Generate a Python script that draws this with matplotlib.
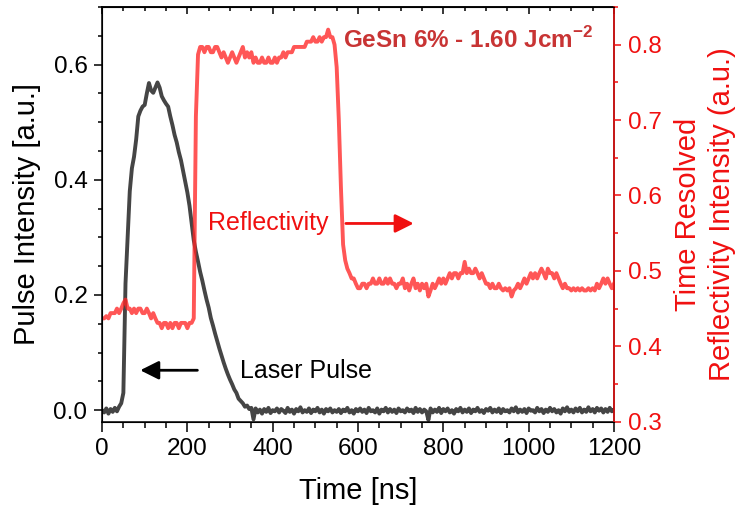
import numpy as np
import matplotlib
matplotlib.use("Agg")
import matplotlib.pyplot as plt
from matplotlib.ticker import MultipleLocator

plt.rcParams['font.family'] = ['Liberation Sans', 'DejaVu Sans']
plt.rcParams['mathtext.fontset'] = 'custom'
plt.rcParams['mathtext.rm'] = 'Liberation Sans'
plt.rcParams['mathtext.bf'] = 'Liberation Sans:bold'

# tiempo en ns, cada 5 ns
tiempo = np.arange(0, 1201, 5)

# pulso laser (eje izquierdo)
pulso = [
    0.000, -0.004, 0.003, -0.006, 0.002, -0.003, 0.004, -0.002, 0.006, 0.012,
    0.030, 0.220, 0.300, 0.380, 0.420, 0.440, 0.470, 0.510, 0.520, 0.527,
    0.530, 0.550, 0.568, 0.555, 0.551, 0.560, 0.569, 0.560, 0.545, 0.538,
    0.532, 0.527, 0.510, 0.495, 0.478, 0.465, 0.448, 0.434, 0.415, 0.395,
    0.378, 0.355, 0.325, 0.295, 0.275, 0.258, 0.240, 0.225, 0.208, 0.192,
    0.178, 0.160, 0.147, 0.133, 0.120, 0.107, 0.095, 0.083, 0.072, 0.062,
    0.053, 0.045, 0.036, 0.030, 0.020, 0.016, 0.012, 0.006, 0.008, 0.002,
    0.004, -0.016,
    0.003, -0.004, 0.001, -0.006, 0.002, -0.003, 0.004, -0.005, 0.000, -0.002,
    0.003, -0.004, 0.002, -0.001, -0.005, 0.004, -0.003, 0.001, -0.006, 0.002,
    -0.002, 0.005, -0.004, 0.000, -0.003, 0.003, -0.005, 0.001, -0.002, 0.004,
    -0.004, 0.001, -0.006, 0.002, -0.002, 0.003, -0.004, 0.000, -0.003, 0.002,
    -0.005, 0.001, -0.002, 0.004, -0.004, 0.000, -0.006, 0.002, -0.002, 0.003,
    -0.003, 0.001, -0.005, 0.004, -0.002, 0.000, -0.004, 0.003, -0.006, 0.001,
    -0.002, 0.004, -0.004, 0.002, -0.003, 0.001, -0.005, 0.003, -0.002, 0.000,
    -0.004, 0.003, -0.002, 0.001, -0.005, 0.004, -0.003, 0.002, -0.004, 0.001,
    -0.002, -0.017, 0.003, -0.004, 0.001, -0.003, 0.004, -0.005, 0.002, -0.002,
    0.003, -0.004, 0.000, -0.006, 0.002, -0.002, 0.004, -0.004, 0.001, -0.003,
    0.003, -0.005, 0.001, -0.002, 0.004, -0.003, 0.000, -0.005, 0.002, -0.001,
    0.004, -0.004, 0.001, -0.003, 0.003, -0.005, 0.002, -0.002, 0.000, -0.004,
    0.003, -0.002, 0.005, -0.004, 0.001, -0.003, 0.002, -0.005, 0.003, -0.001,
    0.000, -0.004, 0.004, -0.002, 0.002, -0.005, 0.001, -0.003, 0.004, -0.002,
    0.002, -0.004, 0.000, -0.006, 0.003, -0.002, 0.005, -0.003, 0.001, -0.004,
    0.003, -0.002, 0.004, -0.004, 0.001, -0.003, 0.005, -0.002, 0.002, -0.004,
    0.004, -0.001, 0.003, -0.004, 0.002, -0.003, 0.004, -0.002, 0.001,
]

# reflectividad (eje derecho)
reflect = [
    0.437, 0.437, 0.440, 0.437, 0.444, 0.444, 0.444, 0.450, 0.444, 0.450,
    0.457, 0.462, 0.450, 0.450, 0.444, 0.450, 0.444, 0.450, 0.450, 0.444,
    0.444, 0.450, 0.444, 0.437, 0.444, 0.437, 0.431, 0.431, 0.424, 0.431,
    0.431, 0.424, 0.431, 0.424, 0.431, 0.431, 0.424, 0.431, 0.431, 0.431,
    0.424, 0.431, 0.431, 0.437, 0.705, 0.787, 0.797, 0.797, 0.790, 0.797,
    0.797, 0.790, 0.790, 0.797, 0.797, 0.790, 0.783, 0.790, 0.783, 0.776,
    0.783, 0.790, 0.783, 0.776, 0.783, 0.790, 0.797, 0.783, 0.790, 0.783,
    0.790, 0.776, 0.783, 0.776, 0.776, 0.783, 0.776, 0.776, 0.783, 0.776,
    0.776, 0.783, 0.776, 0.783, 0.783, 0.790, 0.783, 0.790, 0.790, 0.790,
    0.797, 0.797, 0.797, 0.797, 0.797, 0.797, 0.804, 0.804, 0.804, 0.810,
    0.804, 0.804, 0.810, 0.804, 0.810, 0.810, 0.820, 0.810, 0.810, 0.800,
    0.770, 0.700, 0.610, 0.535, 0.514, 0.503, 0.497, 0.490, 0.490, 0.483,
    0.477, 0.477, 0.483, 0.483, 0.477, 0.483, 0.483, 0.490, 0.483, 0.483,
    0.490, 0.483, 0.483, 0.490, 0.483, 0.490, 0.483, 0.483, 0.477, 0.483,
    0.483, 0.490, 0.477, 0.483, 0.474, 0.483, 0.490, 0.477, 0.483, 0.474,
    0.483, 0.477, 0.483, 0.466, 0.474, 0.483, 0.477, 0.483, 0.490, 0.483,
    0.490, 0.483, 0.490, 0.497, 0.490, 0.497, 0.497, 0.490, 0.497, 0.497,
    0.512, 0.497, 0.503, 0.497, 0.497, 0.503, 0.497, 0.490, 0.497, 0.490,
    0.483, 0.483, 0.477, 0.483, 0.477, 0.477, 0.483, 0.477, 0.474, 0.477,
    0.474, 0.477, 0.466, 0.474, 0.477, 0.483, 0.477, 0.483, 0.490, 0.483,
    0.490, 0.497, 0.490, 0.497, 0.490, 0.497, 0.503, 0.497, 0.490, 0.503,
    0.497, 0.497, 0.490, 0.497, 0.490, 0.483, 0.477, 0.483, 0.477, 0.477,
    0.474, 0.477, 0.474, 0.477, 0.474, 0.477, 0.474, 0.474, 0.477, 0.474,
    0.477, 0.474, 0.483, 0.477, 0.483, 0.490, 0.483, 0.490, 0.483, 0.477,
    0.483,
]

rojo = '#f01010'
rojo_linea = (1.0, 0.15, 0.15, 0.78)
gris = '#454545'

fig = plt.figure(figsize=(7.41, 5.14), dpi=100)
ax = fig.add_axes([0.1377, 0.1796, 0.6909, 0.8068])

ax.plot(tiempo, pulso, color=gris, lw=2.8)
ax.set_xlim(0, 1200)
ax.set_ylim(-0.02, 0.70)
ax.xaxis.set_major_locator(MultipleLocator(200))
ax.xaxis.set_minor_locator(MultipleLocator(50))
ax.yaxis.set_major_locator(MultipleLocator(0.2))
ax.yaxis.set_minor_locator(MultipleLocator(0.05))
ax.tick_params(axis='x', which='major', direction='out', length=7, width=1.1, labelsize=17.5, pad=5)
ax.tick_params(axis='x', which='minor', direction='out', length=4, width=1.1)
ax.tick_params(axis='y', which='major', direction='out', length=5.5, width=1.1, labelsize=17.5, pad=5)
ax.tick_params(axis='y', which='minor', direction='out', length=3, width=1.1)
ax.set_xlabel('Time [ns]', fontsize=21, labelpad=12)
ax.set_ylabel('Pulse Intensity [a.u.]', fontsize=21, labelpad=9)
for s in ax.spines.values():
    s.set_linewidth(1.1)

# ticks de arriba hacia adentro
top = ax.secondary_xaxis('top')
top.xaxis.set_major_locator(MultipleLocator(200))
top.xaxis.set_minor_locator(MultipleLocator(50))
top.tick_params(which='major', direction='in', length=5, width=1.1, labeltop=False)
top.tick_params(which='minor', direction='in', length=3, width=1.1)
top.spines['top'].set_linewidth(1.1)

ax2 = ax.twinx()
ax2.plot(tiempo, reflect, color=rojo_linea, lw=2.8)
ax2.set_ylim(0.3, 0.85)
ax2.yaxis.set_major_locator(MultipleLocator(0.1))
ax2.yaxis.set_minor_locator(MultipleLocator(0.05))
ax2.tick_params(axis='y', which='major', direction='out', length=5, width=1.1,
                labelsize=17.5, pad=5, colors=rojo)
ax2.tick_params(axis='y', which='minor', direction='out', length=3, width=1.1, colors=rojo)
ax2.spines['right'].set_color(rojo)
ax2.spines['right'].set_linewidth(1.1)
ax2.set_ylabel('Time Resolved\nReflectivity Intensity (a.u.)', fontsize=21,
               color=rojo, labelpad=9, linespacing=1.25)

trans = ax.get_xaxis_transform()
ax.text(565, 0.92, r'GeSn 6% - 1.60 Jcm$^{\mathbf{-2}}$', transform=trans,
        fontsize=17.5, fontweight='bold', color='#c83434', va='center', ha='left')
ax.text(248, 0.479, 'Reflectivity', transform=trans, fontsize=18,
        color=rojo, va='center', ha='left')
ax.annotate('', xy=(737, 0.478), xytext=(565, 0.478), xycoords=trans,
            arrowprops=dict(arrowstyle='-|>', color=rojo, lw=2, mutation_scale=28))
ax.text(323, 0.122, 'Laser Pulse', transform=trans, fontsize=18,
        color='black', va='center', ha='left')
ax.annotate('', xy=(83, 0.124), xytext=(230, 0.124), xycoords=trans,
            arrowprops=dict(arrowstyle='-|>', color='black', lw=2, mutation_scale=28))

fig.savefig('out.png', dpi=100)
